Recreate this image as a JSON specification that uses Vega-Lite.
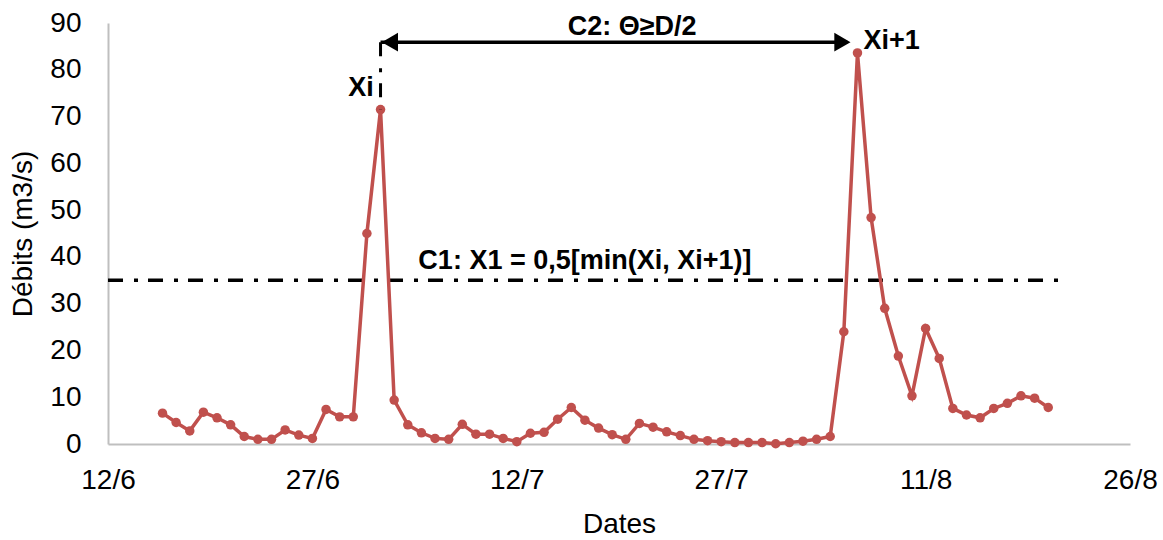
{
  "$schema": "https://vega.github.io/schema/vega-lite/v6.json",
  "width": 1022,
  "height": 421,
  "autosize": {"type": "none"},
  "padding": {"left": 108, "top": 23, "right": 33, "bottom": 96},
  "background": "white",
  "config": {
    "view": {"stroke": null},
    "font": "Liberation Sans Narrow, Arial Narrow, Liberation Sans, sans-serif"
  },
  "datasets": {
    "flow": [
      {"date": "2013-06-16", "v": 6.6},
      {"date": "2013-06-17", "v": 4.6},
      {"date": "2013-06-18", "v": 2.8},
      {"date": "2013-06-19", "v": 6.8},
      {"date": "2013-06-20", "v": 5.6},
      {"date": "2013-06-21", "v": 4.1},
      {"date": "2013-06-22", "v": 1.6},
      {"date": "2013-06-23", "v": 1.0},
      {"date": "2013-06-24", "v": 1.0},
      {"date": "2013-06-25", "v": 3.0},
      {"date": "2013-06-26", "v": 1.9},
      {"date": "2013-06-27", "v": 1.2},
      {"date": "2013-06-28", "v": 7.4},
      {"date": "2013-06-29", "v": 5.8},
      {"date": "2013-06-30", "v": 5.8},
      {"date": "2013-07-01", "v": 45.0},
      {"date": "2013-07-02", "v": 71.5},
      {"date": "2013-07-03", "v": 9.4},
      {"date": "2013-07-04", "v": 4.1},
      {"date": "2013-07-05", "v": 2.4},
      {"date": "2013-07-06", "v": 1.2},
      {"date": "2013-07-07", "v": 1.0},
      {"date": "2013-07-08", "v": 4.2},
      {"date": "2013-07-09", "v": 2.1},
      {"date": "2013-07-10", "v": 2.1},
      {"date": "2013-07-11", "v": 1.2},
      {"date": "2013-07-12", "v": 0.5},
      {"date": "2013-07-13", "v": 2.3},
      {"date": "2013-07-14", "v": 2.5},
      {"date": "2013-07-15", "v": 5.3},
      {"date": "2013-07-16", "v": 7.8},
      {"date": "2013-07-17", "v": 5.1},
      {"date": "2013-07-18", "v": 3.4},
      {"date": "2013-07-19", "v": 2.0},
      {"date": "2013-07-20", "v": 1.0},
      {"date": "2013-07-21", "v": 4.4},
      {"date": "2013-07-22", "v": 3.6},
      {"date": "2013-07-23", "v": 2.6},
      {"date": "2013-07-24", "v": 1.8},
      {"date": "2013-07-25", "v": 1.0},
      {"date": "2013-07-26", "v": 0.7},
      {"date": "2013-07-27", "v": 0.5},
      {"date": "2013-07-28", "v": 0.3},
      {"date": "2013-07-29", "v": 0.3},
      {"date": "2013-07-30", "v": 0.3},
      {"date": "2013-07-31", "v": 0.05},
      {"date": "2013-08-01", "v": 0.3},
      {"date": "2013-08-02", "v": 0.6},
      {"date": "2013-08-03", "v": 1.0},
      {"date": "2013-08-04", "v": 1.6},
      {"date": "2013-08-05", "v": 24.0},
      {"date": "2013-08-06", "v": 83.6},
      {"date": "2013-08-07", "v": 48.4},
      {"date": "2013-08-08", "v": 29.0},
      {"date": "2013-08-09", "v": 18.8},
      {"date": "2013-08-10", "v": 10.3},
      {"date": "2013-08-11", "v": 24.7},
      {"date": "2013-08-12", "v": 18.3},
      {"date": "2013-08-13", "v": 7.6},
      {"date": "2013-08-14", "v": 6.2},
      {"date": "2013-08-15", "v": 5.6},
      {"date": "2013-08-16", "v": 7.6},
      {"date": "2013-08-17", "v": 8.7},
      {"date": "2013-08-18", "v": 10.3},
      {"date": "2013-08-19", "v": 9.8},
      {"date": "2013-08-20", "v": 7.8}
    ],
    "c1": [{"date": "2013-06-12", "date2": "2013-08-21T08:00:00Z", "v": 35}],
    "vert": [{"date": "2013-07-02", "v": 85.9, "v2": 71.5}],
    "arrow": [{"date": "2013-07-02", "date2": "2013-08-05T06:00:00Z", "v": 85.9}],
    "heads": [
      {"date": "2013-07-02T16:30:00Z", "v": 85.9, "shape": "triangle-left"},
      {"date": "2013-08-04T21:30:00Z", "v": 85.9, "shape": "triangle-right"}
    ],
    "labels": [
      {"date": "2013-07-20T11:00:00Z", "v": 89.1, "t": "C2: Θ≥D/2"},
      {"date": "2013-07-17T00:00:00Z", "v": 39.1, "t": "C1: X1 = 0,5[min(Xi, Xi+1)]"},
      {"date": "2013-06-30T13:30:00Z", "v": 76.1, "t": "Xi"},
      {"date": "2013-08-08T12:00:00Z", "v": 86.1, "t": "Xi+1"}
    ]
  },
  "encoding": {
    "x": {
      "field": "date",
      "type": "temporal",
      "scale": {
        "type": "utc",
        "domain": [
          {"year": 2013, "month": 6, "date": 12, "utc": true},
          {"year": 2013, "month": 8, "date": 26, "utc": true}
        ],
        "nice": false
      },
      "axis": {
        "values": [
          {"year": 2013, "month": 6, "date": 12, "utc": true},
          {"year": 2013, "month": 6, "date": 27, "utc": true},
          {"year": 2013, "month": 7, "date": 12, "utc": true},
          {"year": 2013, "month": 7, "date": 27, "utc": true},
          {"year": 2013, "month": 8, "date": 11, "utc": true},
          {"year": 2013, "month": 8, "date": 26, "utc": true}
        ],
        "format": "%-d/%-m",
        "grid": false,
        "ticks": false,
        "domainColor": "#BFBFBF",
        "domainWidth": 2,
        "labelFontSize": 28,
        "labelColor": "#000000",
        "labelPadding": 22,
        "labelFlush": false,
        "labelOverlap": false,
        "labelBound": false,
        "title": "Dates",
        "titleFontSize": 28,
        "titleFontWeight": "normal",
        "titleColor": "#000000",
        "titlePadding": 16
      }
    },
    "y": {
      "field": "v",
      "type": "quantitative",
      "scale": {"domain": [0, 90], "nice": false},
      "axis": {
        "values": [0, 10, 20, 30, 40, 50, 60, 70, 80, 90],
        "grid": false,
        "ticks": false,
        "domainColor": "#BFBFBF",
        "domainWidth": 2,
        "labelFontSize": 28,
        "labelColor": "#000000",
        "labelPadding": 27,
        "title": "Débits (m3/s)",
        "titleFontSize": 28,
        "titleFontWeight": "normal",
        "titleColor": "#000000",
        "titlePadding": 12
      }
    }
  },
  "layer": [
    {
      "data": {"name": "c1"},
      "mark": {"type": "rule", "color": "#000000", "strokeWidth": 3.5, "strokeDash": [15, 11, 4, 10]},
      "encoding": {"x2": {"field": "date2"}}
    },
    {
      "data": {"name": "flow"},
      "mark": {
        "type": "line",
        "color": "#C0504D",
        "strokeWidth": 3.5,
        "point": {"filled": true, "size": 90, "color": "#C0504D", "opacity": 1}
      }
    },
    {
      "data": {"name": "vert"},
      "mark": {"type": "rule", "color": "#000000", "strokeWidth": 3, "strokeDash": [14, 12, 4, 11]},
      "encoding": {"y2": {"field": "v2"}}
    },
    {
      "data": {"name": "arrow"},
      "mark": {"type": "rule", "color": "#000000", "strokeWidth": 3.5},
      "encoding": {"x2": {"field": "date2"}}
    },
    {
      "data": {"name": "heads"},
      "mark": {"type": "point", "filled": true, "color": "#000000", "size": 350, "opacity": 1},
      "encoding": {"shape": {"field": "shape", "type": "nominal", "scale": null}}
    },
    {
      "data": {"name": "labels"},
      "mark": {"type": "text", "fontSize": 27, "fontWeight": "bold", "color": "#000000", "align": "center", "baseline": "middle"},
      "encoding": {"text": {"field": "t"}}
    }
  ]
}
